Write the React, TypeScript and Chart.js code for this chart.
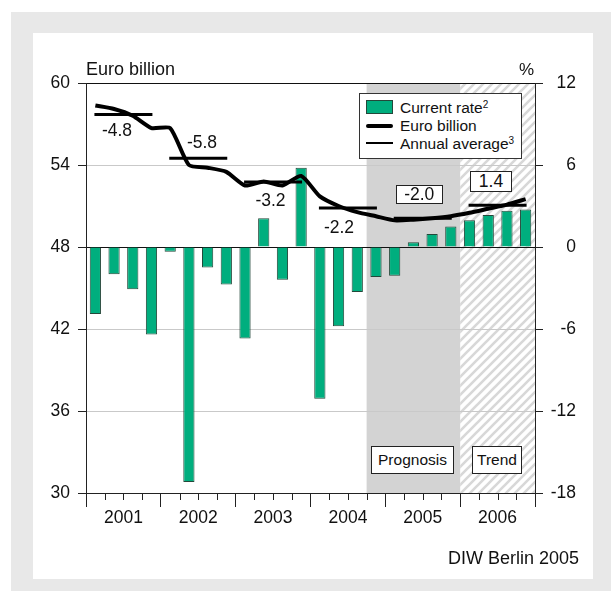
import React, { useEffect, useRef } from 'react';
import { Chart, registerables } from 'chart.js';
Chart.register(...registerables);

const FONT = "'Liberation Sans', Arial, Helvetica, sans-serif";

// ---- data ----
const years = ['2001', '2002', '2003', '2004', '2005', '2006'];
// quarterly current rate (%), right axis
const currentRate = [
  -4.9, -2.0, -3.1, -6.4,
  -0.35, -17.2, -1.5, -2.75,
  -6.7, 2.1, -2.4, 5.8,
  -11.1, -5.8, -3.3, -2.2,
  -2.1, 0.35, 0.95, 1.5,
  1.95, 2.35, 2.65, 2.75,
];
// quarterly level, Euro billion, left axis
const euroBillion = [
  58.35, 58.1, 57.6, 56.7,
  56.7, 54.0, 53.8, 53.5,
  52.5, 52.8, 52.5, 53.2,
  51.7, 51.0, 50.55, 50.25,
  49.95, 50.0, 50.1, 50.25,
  50.5, 50.8, 51.1, 51.5,
];
// annual average, Euro billion
const annualAverage = [57.7, 54.5, 52.75, 50.85, 50.1, 51.05];
// annual rates shown as labels
const annualRate = ['-4.8', '-5.8', '-3.2', '-2.2', '-2.0', '1.4'];

const leftMin = 30, leftMax = 60, leftStep = 6;
const rightMin = -18, rightMax = 12, rightStep = 6;
const prognosisStart = 15, trendStart = 20, trendEnd = 24;

// label placement (pixels)
const rateLabelPos = [
  { x: 117, y: 131, box: null },
  { x: 202, y: 143, box: null },
  { x: 270.5, y: 201, box: null },
  { x: 339, y: 227.5, box: null },
  { x: 419, y: 194, box: { l: 396, t: 184.5, w: 46.5, h: 19.5 } },
  { x: 491, y: 181.5, box: { l: 470, t: 171, w: 42, h: 21 } },
];

const GREEN = '#00ae7e';
const GREEN_BORDER = '#24483a';

function Txt(props: { x: number; y: number; size: number; align?: 'left' | 'center' | 'right'; children: any }) {
  const { x, y, size, align = 'left', children } = props;
  const style: any = {
    position: 'absolute',
    top: y - size / 2,
    fontSize: size,
    lineHeight: size + 'px',
    whiteSpace: 'nowrap',
    color: '#111',
    fontFamily: FONT,
  };
  if (align === 'left') style.left = x;
  else if (align === 'right') style.right = 611 - x;
  else { style.left = x; style.transform = 'translateX(-50%)'; }
  return <div style={style}>{children}</div>;
}

export default function App() {
  const ref = useRef<HTMLCanvasElement>(null);

  useEffect(() => {
    const canvas = ref.current!;
    const tile = document.createElement('canvas');
    tile.width = 9; tile.height = 9;
    const tc = tile.getContext('2d')!;
    tc.strokeStyle = '#d8d8d8';
    tc.lineWidth = 2.6;
    tc.beginPath();
    tc.moveTo(-2, 11); tc.lineTo(11, -2);
    tc.moveTo(-2, 2); tc.lineTo(2, -2);
    tc.moveTo(7, 11); tc.lineTo(11, 7);
    tc.stroke();
    const pattern = canvas.getContext('2d')!.createPattern(tile, 'repeat');

    const shading = {
      id: 'shading',
      beforeDraw(chart: any) {
        const { ctx, chartArea: a, scales: { x } } = chart;
        const p0 = x.getPixelForValue(prognosisStart);
        const p1 = x.getPixelForValue(trendStart);
        const p2 = x.getPixelForValue(trendEnd);
        ctx.save();
        ctx.fillStyle = '#d3d3d3';
        ctx.fillRect(p0, a.top, p1 - p0, a.bottom - a.top);
        ctx.fillStyle = pattern;
        ctx.fillRect(p1, a.top, p2 - p1, a.bottom - a.top);
        ctx.restore();
      },
      afterDraw(chart: any) {
        const { ctx, scales: { x } } = chart;
        ctx.save();
        ctx.strokeStyle = '#222';
        ctx.lineWidth = 1;
        for (let q = 1; q < years.length * 4; q++) {
          if (q % 4 === 0) continue;
          const px = Math.round(x.getPixelForValue(q)) + 0.5;
          ctx.beginPath();
          ctx.moveTo(px, x.top);
          ctx.lineTo(px, x.top + 7);
          ctx.stroke();
        }
        ctx.restore();
      },
    };

    const tickFont = { family: FONT, size: 17.5 };

    const datasets: any[] = [
      {
        type: 'bar',
        label: 'Current rate',
        data: currentRate.map((v, i) => ({ x: i + 0.5, y: v })),
        xAxisID: 'x',
        yAxisID: 'y2',
        backgroundColor: GREEN,
        borderColor: GREEN_BORDER,
        borderWidth: 1,
        barPercentage: 0.6,
        categoryPercentage: 1,
        order: 3,
      },
      {
        type: 'line',
        label: 'Euro billion',
        data: euroBillion.map((v, i) => ({ x: i + 0.5, y: v })),
        xAxisID: 'x',
        yAxisID: 'y',
        borderColor: '#000',
        borderWidth: 4,
        pointRadius: 0,
        tension: 0.2,
        borderJoinStyle: 'round',
        order: 0,
      },
      ...annualAverage.map((v, k) => ({
        type: 'line',
        label: 'Annual average ' + years[k],
        data: [{ x: k * 4 + 0.45, y: v }, { x: k * 4 + 3.55, y: v }],
        xAxisID: 'x',
        yAxisID: 'y',
        borderColor: '#000',
        borderWidth: 3,
        pointRadius: 0,
        order: 1,
      })),
    ];

    const chart = new Chart(canvas, {
      type: 'bar',
      data: { datasets },
      plugins: [shading],
      options: {
        animation: false,
        responsive: false,
        devicePixelRatio: 1,
        layout: { padding: { left: 36, right: 35, top: 83, bottom: 58 } },
        plugins: { legend: { display: false }, tooltip: { enabled: false } },
        scales: {
          x: {
            type: 'linear',
            position: 'bottom',
            min: 0,
            max: years.length * 4,
            offset: false,
            ticks: {
              stepSize: 1,
              maxTicksLimit: 100,
              autoSkip: false,
              maxRotation: 0,
              padding: 1,
              font: tickFont,
              color: '#111',
              callback: (v: any) => {
                const n = Number(v);
                return n % 4 === 2 ? years[(n - 2) / 4] : '';
              },
            },
            grid: {
              offset: false,
              drawOnChartArea: false,
              drawTicks: true,
              tickLength: 14,
              tickColor: (c: any) => (c.tick && c.tick.value % 4 === 0 ? '#222' : 'rgba(0,0,0,0)'),
            },
            border: { display: true, color: '#222', width: 1 },
            afterFit: (s: any) => { s.height = 40; },
          } as any,
          y: {
            type: 'linear',
            position: 'left',
            min: leftMin,
            max: leftMax,
            ticks: { stepSize: leftStep, padding: 8, font: tickFont, color: '#111' },
            grid: {
              color: (c: any) => (c.tick && (c.tick.value === 48 || c.tick.value === 60) ? '#111' : '#c9c9c9'),
              tickColor: '#222',
              tickLength: 8,
            },
            border: { display: true, color: '#222', width: 1 },
            afterFit: (s: any) => { s.width = 50; },
          } as any,
          y2: {
            type: 'linear',
            position: 'right',
            min: rightMin,
            max: rightMax,
            ticks: { stepSize: rightStep, crossAlign: 'far', font: tickFont, color: '#111' },
            grid: { drawOnChartArea: false, tickColor: '#222', tickLength: 8 },
            border: { display: true, color: '#222', width: 1 },
            afterFit: (s: any) => { s.width = 41; },
          } as any,
        },
      },
    });
    return () => chart.destroy();
  }, []);

  return (
    <div style={{ position: 'absolute', left: 0, top: 0, width: 611, height: 591, fontFamily: FONT, overflow: 'hidden' }}>
      <div style={{ position: 'absolute', left: 11, top: 12, width: 600, height: 579, background: '#e8e8e8' }} />
      <div style={{ position: 'absolute', left: 33, top: 33, width: 560, height: 546, background: '#fff' }} />
      <canvas ref={ref} width={611} height={591} style={{ position: 'absolute', left: 0, top: 0, width: 611, height: 591 }} />

      <Txt x={86} y={69} size={18}>Euro billion</Txt>
      <Txt x={534} y={69} size={17} align="right">%</Txt>
      <Txt x={579} y={558} size={18} align="right">DIW Berlin 2005</Txt>

      {rateLabelPos.map((p, i) =>
        p.box ? (
          <div key={i} style={{
            position: 'absolute', left: p.box.l, top: p.box.t, width: p.box.w, height: p.box.h,
            boxSizing: 'border-box', border: '1.5px solid #222', background: '#fff',
            display: 'flex', alignItems: 'center', justifyContent: 'center',
            fontSize: 17.5, lineHeight: '17.5px', color: '#111', fontFamily: FONT,
          }}>{annualRate[i]}</div>
        ) : (
          <Txt key={i} x={p.x} y={p.y} size={17.5} align="center">{annualRate[i]}</Txt>
        )
      )}

      {/* Prognosis / Trend boxes */}
      <div style={{
        position: 'absolute', left: 371, top: 446, width: 83, height: 28, boxSizing: 'border-box',
        border: '1.5px solid #222', background: '#fff', display: 'flex', alignItems: 'center', justifyContent: 'center',
        fontSize: 15.5, lineHeight: '15.5px', color: '#111', fontFamily: FONT,
      }}>Prognosis</div>
      <div style={{
        position: 'absolute', left: 472, top: 446, width: 50, height: 28, boxSizing: 'border-box',
        border: '1.5px solid #222', background: '#fff', display: 'flex', alignItems: 'center', justifyContent: 'center',
        fontSize: 15.5, lineHeight: '15.5px', color: '#111', fontFamily: FONT,
      }}>Trend</div>

      {/* Legend */}
      <div style={{
        position: 'absolute', left: 359, top: 93, width: 163, height: 66, boxSizing: 'border-box',
        border: '1.5px solid #333', background: '#fff',
      }} />
      <div style={{ position: 'absolute', left: 366, top: 100, width: 27, height: 14, boxSizing: 'border-box', background: GREEN, border: '1px solid ' + GREEN_BORDER }} />
      <Txt x={400} y={108} size={15.5}>Current rate<sup style={{ fontSize: 10, verticalAlign: 'top', position: 'relative', top: -3 }}>2</sup></Txt>
      <div style={{ position: 'absolute', left: 366, top: 123.5, width: 27, height: 4, background: '#000', borderRadius: 2 }} />
      <Txt x={400} y={126} size={15.5}>Euro billion</Txt>
      <div style={{ position: 'absolute', left: 366, top: 142, width: 27, height: 2, background: '#000' }} />
      <Txt x={400} y={143.5} size={15.5}>Annual average<sup style={{ fontSize: 10, verticalAlign: 'top', position: 'relative', top: -3 }}>3</sup></Txt>
    </div>
  );
}
